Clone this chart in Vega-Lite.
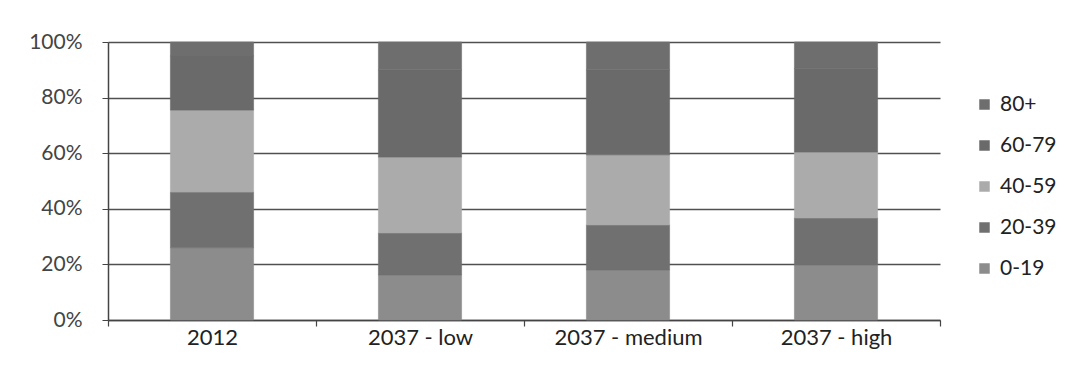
{
  "$schema": "https://vega.github.io/schema/vega-lite/v6.json",
  "width": 832,
  "height": 278,
  "autosize": {"type": "none"},
  "padding": {"left": 108, "top": 42, "right": 133, "bottom": 56},
  "background": "#ffffff",
  "config": {
    "view": {"stroke": null},
    "font": "Lato",
    "axis": {"labelFont": "Lato", "labelFontSize": 21, "labelColor": "#333333"}
  },
  "data": {
    "values": [
      {"scenario": "2012", "group": "0-19", "share": 26},
      {"scenario": "2012", "group": "20-39", "share": 20},
      {"scenario": "2012", "group": "40-59", "share": 29.5},
      {"scenario": "2012", "group": "60-79", "share": 19.5},
      {"scenario": "2012", "group": "80+", "share": 5},
      {"scenario": "2037 - low", "group": "0-19", "share": 16.2},
      {"scenario": "2037 - low", "group": "20-39", "share": 15.1},
      {"scenario": "2037 - low", "group": "40-59", "share": 27.3},
      {"scenario": "2037 - low", "group": "60-79", "share": 31.4},
      {"scenario": "2037 - low", "group": "80+", "share": 10},
      {"scenario": "2037 - medium", "group": "0-19", "share": 18},
      {"scenario": "2037 - medium", "group": "20-39", "share": 16.2},
      {"scenario": "2037 - medium", "group": "40-59", "share": 25.2},
      {"scenario": "2037 - medium", "group": "60-79", "share": 30.6},
      {"scenario": "2037 - medium", "group": "80+", "share": 10},
      {"scenario": "2037 - high", "group": "0-19", "share": 19.8},
      {"scenario": "2037 - high", "group": "20-39", "share": 16.9},
      {"scenario": "2037 - high", "group": "40-59", "share": 23.7},
      {"scenario": "2037 - high", "group": "60-79", "share": 30.1},
      {"scenario": "2037 - high", "group": "80+", "share": 9.5}
    ]
  },
  "mark": {"type": "bar", "width": {"band": 0.4}, "strokeWidth": 0.6},
  "encoding": {
    "x": {
      "field": "scenario",
      "type": "nominal",
      "sort": null,
      "scale": {"paddingInner": 0, "paddingOuter": 0},
      "axis": {
        "title": null,
        "labelAngle": 0,
        "labelPadding": 1,
        "labelFontSize": 22,
        "tickBand": "extent",
        "tickSize": 6,
        "tickColor": "#444444",
        "domainColor": "#444444",
        "domainWidth": 1.5,
        "tickWidth": 1.2,
        "grid": false,
        "labelColor": "#222222"
      }
    },
    "y": {
      "field": "share",
      "type": "quantitative",
      "stack": "normalize",
      "scale": {"domain": [0, 1], "nice": false},
      "axis": {
        "title": null,
        "format": ".0%",
        "values": [0, 0.2, 0.4, 0.6, 0.8, 1],
        "tickSize": 6,
        "labelPadding": 20,
        "tickColor": "#444444",
        "domainColor": "#444444",
        "domainWidth": 1.5,
        "grid": true,
        "gridColor": "#505050",
        "gridWidth": 1.5,
        "zindex": 0,
        "labelColor": "#444444"
      }
    },
    "color": {
      "field": "group",
      "type": "nominal",
      "scale": {
        "domain": ["80+", "60-79", "40-59", "20-39", "0-19"],
        "range": ["#6e6e6e", "#6a6a6a", "#ababab", "#707070", "#8c8c8c"]
      },
      "legend": {
        "title": null,
        "orient": "none",
        "legendX": 866,
        "legendY": 52,
        "symbolType": "square",
        "symbolSize": 110,
        "symbolStrokeWidth": 0,
        "labelFont": "Lato",
        "labelFontSize": 21,
        "labelColor": "#222222",
        "labelOffset": 5,
        "rowPadding": 19
      }
    },
    "stroke": {
      "field": "group",
      "type": "nominal",
      "scale": {
        "domain": ["80+", "60-79", "40-59", "20-39", "0-19"],
        "range": ["#6e6e6e", "#6a6a6a", "#ababab", "#707070", "#8c8c8c"]
      },
      "legend": null
    },
    "order": {"field": "group", "sort": "ascending"}
  }
}
